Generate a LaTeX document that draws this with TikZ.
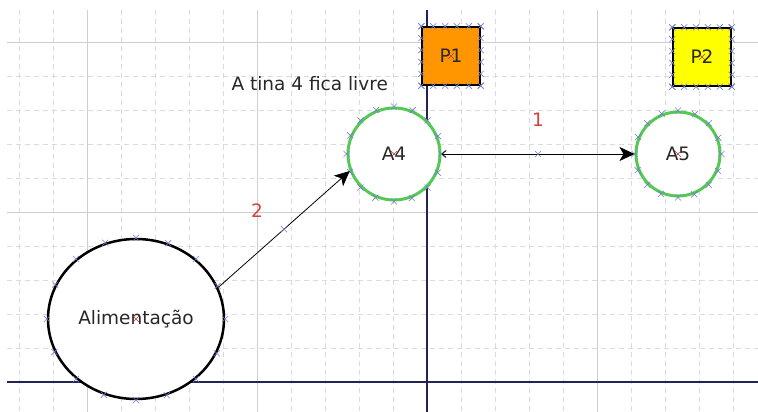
\documentclass[tikz,border=0pt]{standalone}
\usepackage{fontspec}
\setmainfont{DejaVu Sans}
\usetikzlibrary{arrows.meta, calc, shapes.geometric}

\definecolor{gradeclara}{RGB}{218,218,226}
\definecolor{gradeforte}{RGB}{205,205,212}
\definecolor{eixoazul}{RGB}{35,35,85}
\definecolor{verde}{RGB}{85,200,85}
\definecolor{laranja}{RGB}{255,150,0}
\definecolor{amarelo}{RGB}{255,255,0}
\definecolor{marcaazul}{RGB}{115,125,200}
\definecolor{vermelho}{RGB}{205,70,60}
\definecolor{centrovermelho}{RGB}{175,60,60}
\definecolor{texto}{RGB}{40,40,40}

\begin{document}
\begin{tikzpicture}[x=1pt, y=-1pt,
  font=\fontsize{18.5}{22}\selectfont,
  grade/.style={draw=gradeclara, line width=0.6pt, dash pattern=on 5pt off 4pt},
  gradeforte/.style={draw=gradeforte, line width=0.7pt},
  eixo/.style={draw=eixoazul, line width=1.6pt},
  tina/.style={circle, draw=verde, line width=3pt, fill=white, minimum size=#1, inner sep=0pt, text=texto},
  bomba/.style={rectangle, draw=black, line width=1.4pt, minimum size=58pt, inner sep=0pt, text=texto},
  marca/.style={draw=marcaazul, line width=0.6pt},
  centro/.style={draw=centrovermelho, line width=0.6pt},
  ligacao/.style={draw=black, line width=0.8pt},
  rotulo/.style={text=vermelho}]

% Fix the page size to the reference
\useasboundingbox (0,0) rectangle (758,412);

% Background grid: dashed every cell, solid every fifth line
\foreach \x in {19,53,...,733}
  \draw[grade] (\x,10) -- (\x,412);
\foreach \y in {42,76,...,382}
  \draw[grade] (7,\y) -- (758,\y);
\foreach \x in {87,257,597}
  \draw[gradeforte] (\x,10) -- (\x,412);
\foreach \y in {42,212}
  \draw[gradeforte] (7,\y) -- (758,\y);

% Axes
\draw[eixo] (427,10) -- (427,412);
\draw[eixo] (7,382) -- (758,382);

% Tanks and pumps
\node[ellipse, draw=black, line width=2.5pt, fill=white, minimum width=176pt, minimum height=160pt, inner sep=0pt, text=texto] (alim) at (136,319) {Alimentação};
\node[tina=92pt] (a4) at (394,154) {A4};
\node[tina=84pt] (a5) at (678,154) {A5};
\node[bomba, fill=laranja] (p1) at (451,56) {P1};
\node[bomba, fill=amarelo] (p2) at (702,57) {P2};

% Note above tank 4
\node[anchor=base west, text=texto] (aviso) at (228,91) {A tina 4 fica livre};

% Connection points on the tanks
\foreach \n in {alim,a4,a5}
  \foreach \a in {0,22.5,...,337.5}
    \draw[marca] (\n.\a) +(-3,-3) -- +(3,3) +(-3,3) -- +(3,-3);

% Connection points on the pumps
\foreach \n in {p1,p2}
  \foreach \f in {0,0.2,...,1.01} {
    \draw[marca] ($(\n.north west)!\f!(\n.north east)$) +(-3,-3) -- +(3,3) +(-3,3) -- +(3,-3);
    \draw[marca] ($(\n.south west)!\f!(\n.south east)$) +(-3,-3) -- +(3,3) +(-3,3) -- +(3,-3);
    \draw[marca] ($(\n.north west)!\f!(\n.south west)$) +(-3,-3) -- +(3,3) +(-3,3) -- +(3,-3);
    \draw[marca] ($(\n.north east)!\f!(\n.south east)$) +(-3,-3) -- +(3,3) +(-3,3) -- +(3,-3);
  }

% Centre marks
\foreach \n in {alim,a4,a5,p1,p2}
  \draw[centro] (\n.center) +(-3,-3) -- +(3,3) +(-3,3) -- +(3,-3);

% Transfer 2: feed to tank 4
\draw[ligacao, -{Stealth[length=15pt, width=14pt, inset=4pt]}] (alim.21) -- (a4.201)
  coordinate[midway] (m2)
  node[rotulo, midway, xshift=-27pt, yshift=19pt] (l2) {2};
\draw[marca] (m2) +(-3,-3) -- +(3,3) +(-3,3) -- +(3,-3);

% Transfer 1: tank 4 to tank 5
\draw[ligacao, {Straight Barb[length=4pt, width=7pt]}-{Stealth[length=15pt, width=14pt, inset=4pt]}] (a4.east) -- (a5.west)
  coordinate[midway] (m1)
  node[rotulo, midway, yshift=34pt] (l1) {1};
\draw[marca] (m1) +(-3,-3) -- +(3,3) +(-3,3) -- +(3,-3);

\end{tikzpicture}
\end{document}
